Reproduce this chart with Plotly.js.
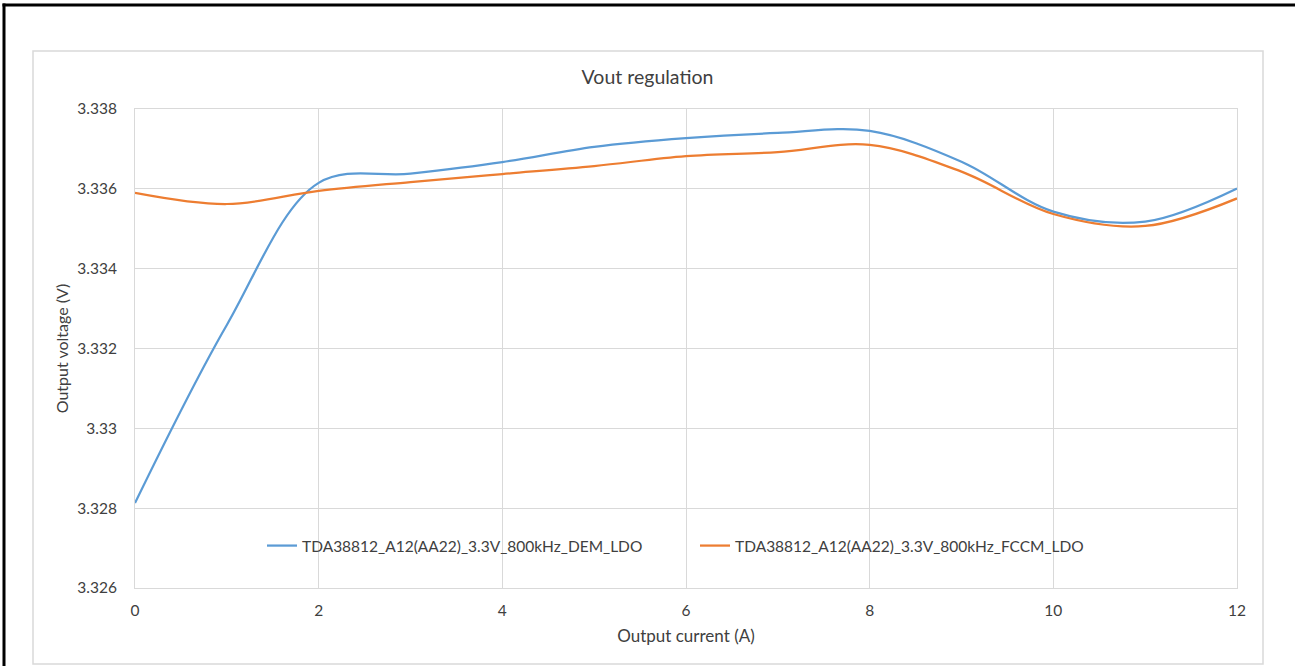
<!DOCTYPE html>
<html>
<head>
<meta charset="utf-8">
<script src="https://cdn.plot.ly/plotly-3.0.1.min.js"></script>
<style>html,body{margin:0;padding:0;background:#fff;overflow:hidden;}#chart{width:1295px;height:666px;}</style>
</head>
<body>
<div id="chart"></div>
<script>
// Data
const current = [0, 1, 2, 3, 4, 5, 6, 7, 8, 9, 10, 11, 12];
const voutDEM = [3.32813, 3.33259, 3.33615, 3.33638, 3.33667, 3.33705, 3.33727, 3.3374, 3.33745, 3.33668, 3.33543, 3.33518, 3.33601];
const voutFCCM = [3.3359, 3.33562, 3.33595, 3.33617, 3.33637, 3.33657, 3.33682, 3.33692, 3.3371, 3.33643, 3.33537, 3.33507, 3.33576];
const seriesNames = ["TDA38812_A12(AA22)_3.3V_800kHz_DEM_LDO", "TDA38812_A12(AA22)_3.3V_800kHz_FCCM_LDO"];
const yTickVals = [3.326, 3.328, 3.33, 3.332, 3.334, 3.336, 3.338];
const yTickText = ["3.326", "3.328", "3.33", "3.332", "3.334", "3.336", "3.338"];
const xTickVals = [0, 2, 4, 6, 8, 10, 12];

// Plot area in pixels
const W = 1295, H = 666;
const L = 135, R = 1237, T = 109, B = 588;
const fx = px => (px - L) / (R - L);
const fy = py => (B - py) / (B - T);

const FONT = "Lato, 'Open Sans', sans-serif";
const traces = [
  {x: current, y: voutDEM, name: seriesNames[0], type: 'scatter', mode: 'lines',
   line: {color: '#5b9bd5', width: 2.25, shape: 'spline', smoothing: 1}},
  {x: current, y: voutFCCM, name: seriesNames[1], type: 'scatter', mode: 'lines',
   line: {color: '#ed7d31', width: 2.25, shape: 'spline', smoothing: 1}}
];

const layout = {
  width: W, height: H,
  margin: {l: L, r: W - R, t: T, b: H - B, pad: 0},
  paper_bgcolor: '#ffffff', plot_bgcolor: '#ffffff',
  font: {family: FONT, color: '#404040', size: 15},
  title: {text: 'Vout regulation', font: {family: FONT, size: 19.5, color: '#404040'},
          x: 0.5, xanchor: 'center', xref: 'container', y: 1 - 77 / H, yanchor: 'middle', yref: 'container'},
  xaxis: {range: [0, 12], tickvals: xTickVals, showgrid: true, gridcolor: '#d9d9d9', gridwidth: 1,
          zeroline: false, showline: true, linecolor: '#d9d9d9', linewidth: 1, mirror: true,
          ticks: '', ticklen: 0, ticklabelstandoff: 8,
          tickfont: {family: FONT, size: 15.5, color: '#404040'},
          title: {text: 'Output current (A)', font: {family: FONT, size: 17, color: '#404040'}, standoff: 12},
          automargin: false, fixedrange: true},
  yaxis: {range: [3.326, 3.338], tickvals: yTickVals, ticktext: yTickText, showgrid: true,
          gridcolor: '#d9d9d9', gridwidth: 1, zeroline: false, showline: true, linecolor: '#d9d9d9',
          linewidth: 1, mirror: true, ticks: '', ticklen: 0, ticklabelstandoff: 14,
          tickfont: {family: FONT, size: 15.5, color: '#404040'},
          title: {text: 'Output voltage (V)', font: {family: FONT, size: 16, color: '#404040'}, standoff: 4},
          automargin: false, fixedrange: true},
  showlegend: true,
  legend: {orientation: 'h', x: fx(262), xanchor: 'left', y: fy(546), yanchor: 'middle',
           font: {family: FONT, size: 15.5, color: '#404040'}, bgcolor: 'rgba(0,0,0,0)',
           itemwidth: 30, entrywidth: 388, entrywidthmode: 'pixels', tracegroupgap: 0},
  shapes: [
    {type: 'rect', xref: 'paper', yref: 'paper', x0: fx(33), x1: fx(1263), y0: fy(51), y1: fy(664),
     line: {color: '#d9d9d9', width: 1.5}, fillcolor: 'rgba(0,0,0,0)', layer: 'below'},
    {type: 'line', xref: 'paper', yref: 'paper', x0: fx(2.5), x1: fx(1300), y0: fy(5), y1: fy(5),
     line: {color: '#000000', width: 3}, layer: 'below'},
    {type: 'line', xref: 'paper', yref: 'paper', x0: fx(4), x1: fx(4), y0: fy(3.5), y1: fy(670),
     line: {color: '#000000', width: 3}, layer: 'below'}
  ]
};

Plotly.newPlot('chart', traces, layout, {displayModeBar: false, staticPlot: true});
</script>
</body>
</html>
